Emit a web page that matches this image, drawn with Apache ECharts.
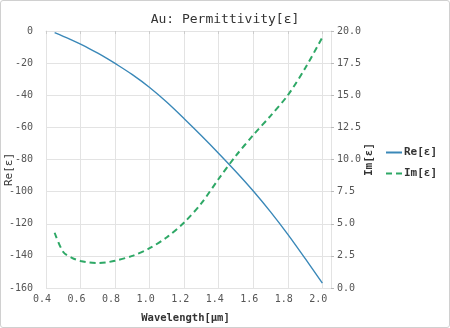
<!DOCTYPE html>
<html>
<head>
<meta charset="utf-8">
<script src="https://cdn.jsdelivr.net/npm/echarts@6/dist/echarts.min.js"></script>
<style>
  html, body { margin: 0; padding: 0; background: #fff; }
  #chart { position: absolute; left: 0; top: 0; width: 450px; height: 328px; }
  #frame { position: absolute; left: 0; top: 0; width: 448px; height: 326px; border: 1px solid #d0d0d0; border-radius: 3px; pointer-events: none; }
</style>
</head>
<body>
<div id="chart"></div>
<div id="frame"></div>
<script>
const wavelength = [0.45, 0.5, 0.55, 0.6, 0.65, 0.7, 0.75, 0.8, 0.9, 1.0, 1.1, 1.2, 1.3, 1.4, 1.5, 1.6, 1.7, 1.8, 1.9, 2.0];
const reEps = [-1, -3.3, -5.7, -8.2, -10.9, -13.8, -16.9, -20.2, -27.2, -35.2, -44.4, -54.6, -65.2, -76.2, -87.6, -99.6, -112.6, -126.6, -141.6, -157];
const imEps = [4.3, 2.8, 2.35, 2.1, 1.98, 1.95, 2.0, 2.12, 2.5, 3.1, 3.95, 5.1, 6.6, 8.5, 10.3, 11.9, 13.4, 15.0, 17.1, 19.5];
const seriesNames = ['Re[ε]', 'Im[ε]'];
const titleText = 'Au: Permittivity[ε]';
const xName = 'Wavelength[μm]';

const mono = 'DejaVu Sans Mono';
const gridColor = '#e3e3e3';
const labelColor = '#555';

const chart = echarts.init(document.getElementById('chart'), null, { renderer: 'canvas' });
chart.setOption({
  animation: false,
  backgroundColor: '#fff',
  title: {
    text: titleText,
    left: 'center',
    top: 8,
    textStyle: { fontFamily: mono, fontSize: 13, fontWeight: 'normal', color: '#333' }
  },
  legend: {
    orient: 'vertical',
    left: 380,
    top: 142,
    itemWidth: 16,
    itemHeight: 10,
    itemGap: 10,
    data: seriesNames,
    itemStyle: { opacity: 0 },
    textStyle: { fontFamily: mono, fontSize: 11, fontWeight: 'bold', color: '#333', padding: [0, 0, 0, -3] }
  },
  grid: { left: 46, right: 119, top: 31, bottom: 40, containLabel: false, outerBoundsMode: 'none' },
  xAxis: {
    type: 'value',
    min: 0.4,
    max: 2.05,
    interval: 0.2,
    name: xName,
    nameLocation: 'middle',
    nameGap: 25,
    nameMoveOverlap: false,
    nameTextStyle: { fontFamily: mono, fontSize: 10.5, fontWeight: 'bold', color: '#333', padding: [0, 6, 0, 0] },
    axisLine: { show: true, lineStyle: { color: gridColor } },
    axisTick: { show: true, length: 3, lineStyle: { color: '#ccc' } },
    axisLabel: {
      showMaxLabel: false,
      fontFamily: mono, fontSize: 10, color: labelColor, margin: 6,
      padding: [0, 8, 0, 0],
      formatter: v => v.toFixed(1)
    },
    splitLine: { show: true, lineStyle: { color: gridColor } }
  },
  yAxis: [
    {
      type: 'value',
      min: -160,
      max: 0,
      interval: 20,
      name: seriesNames[0],
      nameLocation: 'middle',
      nameGap: 31,
      nameRotate: 90,
      nameMoveOverlap: false,
      nameTextStyle: { fontFamily: mono, fontSize: 11, color: '#333', padding: [0, 20, 0, 0] },
      axisLine: { show: true, lineStyle: { color: gridColor } },
      axisTick: { show: false },
      axisLabel: { fontFamily: mono, fontSize: 10, color: labelColor, margin: 13 },
      splitLine: { show: true, lineStyle: { color: gridColor } }
    },
    {
      type: 'value',
      min: 0,
      max: 20,
      interval: 2.5,
      name: seriesNames[1],
      nameLocation: 'middle',
      nameGap: 33,
      nameRotate: 90,
      nameMoveOverlap: false,
      nameTextStyle: { fontFamily: mono, fontSize: 11, fontWeight: 'bold', color: '#333' },
      axisLine: { show: true, lineStyle: { color: gridColor } },
      axisTick: { show: true, length: 3, lineStyle: { color: '#bbb' } },
      axisLabel: { fontFamily: mono, fontSize: 10, color: labelColor, margin: 6, formatter: v => v.toFixed(1) },
      splitLine: { show: false }
    }
  ],
  series: [
    {
      name: seriesNames[0],
      type: 'line',
      yAxisIndex: 0,
      data: wavelength.map((w, i) => [w, reEps[i]]),
      smooth: 0.3,
      symbol: 'none',
      lineStyle: { color: '#3a88b8', width: 1.4 },
      itemStyle: { color: '#3a88b8' }
    },
    {
      name: seriesNames[1],
      type: 'line',
      yAxisIndex: 1,
      data: wavelength.map((w, i) => [w, imEps[i]]),
      smooth: 0.3,
      symbol: 'none',
      lineStyle: { color: '#2ea866', width: 2, type: [6, 4] },
      itemStyle: { color: '#2ea866' }
    }
  ]
});
</script>
</body>
</html>
